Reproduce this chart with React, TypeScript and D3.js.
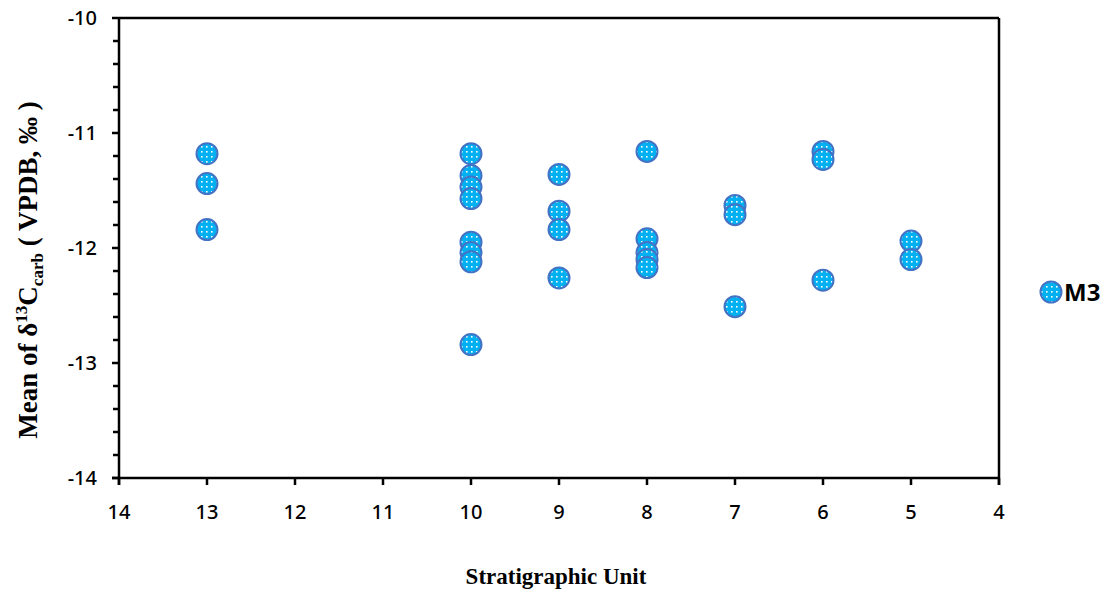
import React from "react";
import * as d3 from "d3";

// Stratigraphic unit of each sample and its mean δ13C(carb) value (‰ VPDB), series M3
const units = [
  13, 13, 13,
  10, 10, 10, 10, 10, 10, 10, 10,
  9, 9, 9, 9,
  8, 8, 8, 8, 8,
  7, 7, 7,
  6, 6, 6,
  5, 5,
];
const meanD13C = [
  -11.18, -11.44, -11.84,
  -11.18, -11.37, -11.47, -11.57, -11.95, -12.04, -12.12, -12.84,
  -11.36, -11.68, -11.84, -12.26,
  -11.16, -11.92, -12.04, -12.10, -12.17,
  -11.63, -11.71, -12.51,
  -11.16, -11.23, -12.28,
  -11.94, -12.10,
];
const xTicks = [14, 13, 12, 11, 10, 9, 8, 7, 6, 5, 4];
const yTicks = [-10, -11, -12, -13, -14];
const seriesName = "M3";

const W = 1113;
const H = 594;
const left = 119;
const right = 999;
const top = 18;
const bottom = 478;

export default function App() {
  const x = d3.scaleLinear().domain([14, 4]).range([left, right]);
  const y = d3.scaleLinear().domain([-14, -10]).range([bottom, top]);
  const minor = d3.range(-14, -10.0001, 0.2).filter((v) => Math.abs(v - Math.round(v)) > 1e-6);
  const pts = units.map((u, i) => ({ u, v: meanD13C[i] }));
  const tickFont = "'Noto Sans', 'Open Sans', Arial, sans-serif";
  const titleFont = "'Liberation Serif', 'Times New Roman', serif";

  return (
    <svg width={W} height={H} style={{ position: "absolute", left: 0, top: 0, background: "#fff" }}>
      <defs>
        <pattern id="dots" width="5" height="5" patternUnits="userSpaceOnUse">
          <rect width="5" height="5" fill="#00B0F0" />
          <rect x="1" y="1" width="1.6" height="1.6" fill="#ffffff" />
        </pattern>
      </defs>
      <rect x={0} y={0} width={W} height={H} fill="#fff" />

      {/* frame */}
      <line x1={left} x2={right} y1={top} y2={top} stroke="#000" strokeWidth={2.5} />
      <line x1={right} x2={right} y1={top} y2={bottom + 7} stroke="#000" strokeWidth={2.5} />
      <line x1={left} x2={left} y1={top} y2={bottom + 7} stroke="#000" strokeWidth={2.5} />
      <line x1={left - 7} x2={right} y1={bottom} y2={bottom} stroke="#000" strokeWidth={2.5} />

      {/* y ticks */}
      {yTicks.map((t) => (
        <g key={t}>
          <line x1={left - 7} x2={left} y1={y(t)} y2={y(t)} stroke="#000" strokeWidth={2.5} />
          <text x={left - 22} y={y(t)} dy="0.36em" textAnchor="end" fontFamily={tickFont} fontWeight={500} fontSize={20} fill="#000">
            {t}
          </text>
        </g>
      ))}
      {minor.map((t) => (
        <line key={t} x1={left - 6} x2={left} y1={y(t)} y2={y(t)} stroke="#000" strokeWidth={2.5} />
      ))}

      {/* x ticks */}
      {xTicks.map((t) => (
        <g key={t}>
          <line x1={x(t)} x2={x(t)} y1={bottom} y2={bottom + 7} stroke="#000" strokeWidth={2.5} />
          <text x={x(t)} y={bottom + 41} textAnchor="middle" fontFamily={tickFont} fontWeight={500} fontSize={20} fill="#000">
            {t}
          </text>
        </g>
      ))}

      {/* points */}
      {pts.map((p, i) => (
        <circle key={i} cx={x(p.u)} cy={y(p.v)} r={10.5} fill="url(#dots)" stroke="#4472C4" strokeWidth={2} />
      ))}

      {/* legend */}
      <circle cx={1051} cy={292} r={10.5} fill="url(#dots)" stroke="#4472C4" strokeWidth={2} />
      <text x={1064} y={292} dy="0.36em" fontFamily={tickFont} fontWeight="bold" fontSize={24} fill="#000">
        {seriesName}
      </text>

      {/* axis titles */}
      <text x={556} y={584} textAnchor="middle" fontFamily={titleFont} fontWeight="bold" fontSize={23} fill="#000">
        Stratigraphic Unit
      </text>
      <text
        transform={`translate(37, 270) rotate(-90)`}
        textAnchor="middle"
        fontFamily={titleFont}
        fontWeight="bold"
        fontSize={27}
        fill="#000"
      >
        Mean of δ<tspan fontSize={17} dy={-10}>13</tspan>
        <tspan dy={10}>C</tspan>
        <tspan fontSize={17} dy={6}>carb</tspan>
        <tspan dy={-6}> ( VPDB, ‰ )</tspan>
      </text>
    </svg>
  );
}
